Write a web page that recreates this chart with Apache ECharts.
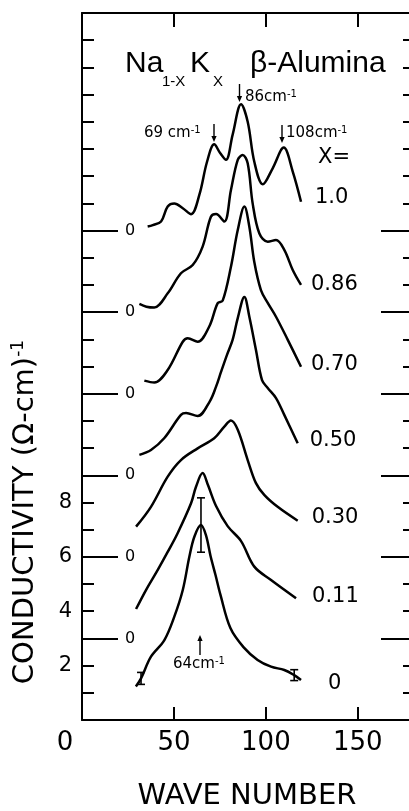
<!DOCTYPE html>
<html><head><meta charset="utf-8">
<script src="https://cdn.jsdelivr.net/npm/echarts@6/dist/echarts.min.js"></script>
<style>html,body{margin:0;padding:0;background:#fff}#c{width:409px;height:811px}</style>
</head><body><div id="c"></div>
<script>
// ---- data ----
const compositions = ['1.0', '0.86', '0.70', '0.50', '0.30', '0.11', '0'];
const offsets = [18, 15, 12, 9, 6, 3, 0];
const curve_100 = [[35.7,0.15],[38.5,0.2],[43.0,0.33],[46.6,0.88],[50.2,0.99],[54.8,0.82],[59.3,0.60],[63.8,1.31],[68.0,2.53],[71.9,3.17],[75.2,2.84],[78.3,2.60],[81.9,3.52],[86.5,4.64],[90.1,4.0],[93.7,2.53],[98.3,1.70],[103.7,2.29],[109.7,3.05],[114.6,2.17],[119.1,1.06]];
const curve_086 = [[31.2,0.30],[35.0,0.2],[39.3,0.17],[46.6,0.69],[53.8,1.43],[60.2,1.73],[65.6,2.41],[70.1,3.51],[72.9,3.61],[77.4,3.33],[81.0,4.49],[84.7,5.60],[87.4,5.78],[90.1,5.47],[92.8,4.0],[96.4,2.90],[101.0,2.59],[105.5,2.65],[110.0,2.29],[114.6,1.55],[119.1,1.0]];
const curve_070 = [[33.9,0.48],[39.3,0.41],[46.6,0.87],[54.8,1.91],[57.5,2.04],[62.9,1.91],[69.2,2.47],[73.8,3.33],[76.5,3.42],[81.0,4.67],[84.7,6.02],[88.3,6.88],[91.0,6.14],[93.7,4.84],[97.3,3.81],[101.0,3.34],[105.5,2.83],[111.9,1.98],[119.1,0.99]];
const curve_050 = [[31.2,0.75],[37.5,0.93],[44.8,1.37],[53.8,2.22],[56.6,2.29],[62.9,2.18],[69.5,2.72],[72.9,3.26],[75.6,3.80],[78.8,4.42],[81.9,4.98],[84.7,5.78],[88.3,6.56],[91.0,5.83],[94.6,4.61],[97.9,3.50],[101.0,3.21],[105.5,2.84],[110.0,2.22],[117.3,1.18]];
const curve_030 = [[29.4,1.11],[37.5,1.84],[46.6,2.95],[53.8,3.56],[62.9,3.99],[71.9,4.36],[77.4,4.79],[81.0,5.01],[84.7,4.67],[90.1,3.56],[94.6,2.71],[99.1,2.28],[106.4,1.84],[117.3,1.33]];
const curve_011 = [[29.4,1.08],[34.8,1.78],[41.2,2.52],[46.6,3.18],[52.0,3.87],[59.3,4.97],[62.0,5.58],[65.6,6.08],[68.5,5.64],[72.9,4.87],[79.2,4.13],[86.5,3.58],[93.7,2.64],[102.8,2.15],[116.4,1.48]];
const curve_000 = [[29.3,1.23],[32.1,1.53],[37.5,2.33],[44.8,2.94],[50.2,3.80],[54.8,4.78],[58.4,6.01],[61.1,6.74],[64.7,7.17],[67.4,6.80],[69.9,6.03],[72.6,5.33],[75.3,4.60],[80.7,3.38],[87.8,2.68],[95.5,2.21],[102.8,1.96],[110.0,1.84],[115.4,1.65],[119.1,1.47]];
const curves = [curve_100, curve_086, curve_070, curve_050, curve_030, curve_011, curve_000];
const errX = [64.7, 32.1, 115.4];
const errY = [7.17, 1.53, 1.65];
const errD = [1.0, 0.22, 0.2];
const xTickLabels = [0, 50, 100, 150];
const yTickLabels = [2, 4, 6, 8];

// ---- styles ----
const FONT = 'DejaVu Sans';
const labelDist = [14, 10, 10, 12, 14, 16, 27];
const labelDy = [-4, 0, -2, -3, -3, -2, 4];
const zeroMarks = offsets.filter(o => o > 0);
const black = '#000';

const chart = echarts.init(document.getElementById('c'), null, {renderer: 'canvas'});

const lineSeries = curves.map((c, i) => ({
  type: 'line',
  name: compositions[i],
  data: c.map(p => [p[0], p[1] + offsets[i]]),
  showSymbol: false,
  smooth: 0.35,
  lineStyle: {color: black, width: 2.5},
  silent: true,
  endLabel: {
    show: true,
    formatter: compositions[i],
    distance: labelDist[i],
    offset: [0, labelDy[i]],
    fontFamily: FONT, fontSize: 21, color: black
  },
  z: 2
}));

const errSeries = {
  type: 'custom',
  silent: true,
  data: errX.map((x, i) => [x, errY[i], errD[i]]),
  renderItem: function (params, api) {
    const x = api.value(0), y = api.value(1), d = api.value(2);
    const t = api.coord([x, y + d]), b = api.coord([x, y - d]);
    const w = 4;
    const st = {stroke: black, lineWidth: 1.6};
    return {type: 'group', children: [
      {type: 'line', shape: {x1: t[0], y1: t[1], x2: b[0], y2: b[1]}, style: st},
      {type: 'line', shape: {x1: t[0] - w, y1: t[1], x2: t[0] + w, y2: t[1]}, style: st},
      {type: 'line', shape: {x1: b[0] - w, y1: b[1], x2: b[0] + w, y2: b[1]}, style: st}
    ]};
  },
  z: 3
};

const axLine = {show: true, onZero: false, lineStyle: {color: black, width: 2}};
const noLine = {show: false, onZero: false};
const tickStyle = {color: black, width: 2};

function arrow(x, yFrom, yTo) {
  const dir = yTo > yFrom ? 1 : -1;
  return {type: 'group', children: [
    {type: 'line', shape: {x1: x, y1: yFrom, x2: x, y2: yTo - dir * 4}, style: {stroke: black, lineWidth: 1.4}},
    {type: 'polygon', shape: {points: [[x - 2.6, yTo - dir * 6], [x + 2.6, yTo - dir * 6], [x, yTo]]}, style: {fill: black}}
  ]};
}
function txt(x, y, text, size, family, align, extra) {
  return {type: 'text', x: x, y: y, style: Object.assign({
    text: text, fontSize: size, fontFamily: family || FONT, fill: black,
    align: align || 'left', verticalAlign: 'middle'
  }, extra || {})};
}
const supRich = {s: {fontSize: 10, fontFamily: FONT, verticalAlign: 'top', fill: black}};

const option = {
  animation: false,
  backgroundColor: '#fff',
  grid: {left: 82, right: -4, top: 13, bottom: 91, outerBoundsMode: 'none'},
  xAxis: [
    {
      type: 'value', position: 'bottom', min: 0, max: 180, interval: 50,
      axisLine: axLine,
      axisTick: {show: true, inside: true, length: 13, lineStyle: tickStyle},
      axisLabel: {
        margin: 10, fontFamily: FONT, fontSize: 26, color: black,
        formatter: v => xTickLabels.indexOf(v) < 0 ? '' : (v === 0 ? '{z|0}' : String(v)),
        rich: {z: {fontFamily: FONT, fontSize: 26, color: black, padding: [0, 34, 0, 0]}}
      },
      splitLine: {show: false}
    },
    {
      type: 'value', position: 'top', min: 0, max: 180, interval: 50,
      axisLine: axLine,
      axisTick: {show: true, inside: true, length: 14, lineStyle: tickStyle},
      axisLabel: {show: false}, splitLine: {show: false}
    }
  ],
  yAxis: [
    {
      type: 'value', position: 'left', min: 0, max: 26, interval: 1,
      axisLine: axLine,
      axisTick: {show: true, inside: true, length: 12, lineStyle: tickStyle},
      axisLabel: {
        margin: 10, fontFamily: FONT, fontSize: 21, color: black,
        formatter: v => yTickLabels.indexOf(v) < 0 ? '' : String(v)
      },
      splitLine: {show: false}
    },
    {
      type: 'value', position: 'left', min: 0, max: 26, interval: 1,
      axisLine: noLine,
      axisTick: {show: true, inside: true, length: 36, customValues: zeroMarks, lineStyle: tickStyle},
      axisLabel: {show: true, inside: true, customValues: zeroMarks, formatter: () => '0',
        margin: 43, fontFamily: FONT, fontSize: 16, color: black},
      splitLine: {show: false}
    },
    {
      type: 'value', position: 'right', min: 0, max: 26, interval: 1,
      axisLine: axLine,
      axisTick: {show: true, inside: true, length: 10, lineStyle: tickStyle},
      axisLabel: {show: false}, splitLine: {show: false}
    },
    {
      type: 'value', position: 'right', min: 0, max: 26, interval: 1,
      axisLine: noLine,
      axisTick: {show: true, inside: true, length: 32, customValues: zeroMarks, lineStyle: tickStyle},
      axisLabel: {show: false}, splitLine: {show: false}
    }
  ],
  series: lineSeries.concat([errSeries]),
  graphic: [
    // axis names
    {type: 'text', x: 25, y: 512, rotation: Math.PI / 2, style: {
      text: 'CONDUCTIVITY (Ω-cm){s|-1}', fontSize: 29, fontFamily: FONT, fill: black,
      align: 'center', verticalAlign: 'middle',
      rich: {s: {fontSize: 17, fontFamily: FONT, verticalAlign: 'top', fill: black}}
    }},
    txt(247, 796, 'WAVE NUMBER', 29, FONT, 'center'),
    // title
    txt(125, 64, 'Na', 30, 'Liberation Sans'),
    txt(162, 82, '1-X', 15, 'Liberation Sans'),
    txt(190, 64, 'K', 30, 'Liberation Sans'),
    txt(213, 82, 'X', 15, 'Liberation Sans'),
    txt(250, 64, 'β-Alumina', 30, 'Liberation Sans'),
    // peak annotations
    arrow(239.5, 84, 102),
    txt(245, 97, '86cm{s|-1}', 15, FONT, 'left', {rich: supRich}),
    txt(144, 133, '69 cm{s|-1}', 15, FONT, 'left', {rich: supRich}),
    arrow(214, 124, 142),
    arrow(282, 125, 143),
    txt(286, 133, '108cm{s|-1}', 15, FONT, 'left', {rich: supRich}),
    arrow(200, 655, 635),
    txt(173, 664, '64cm{s|-1}', 15, FONT, 'left', {rich: supRich}),
    txt(334, 158, 'X=', 21, FONT, 'center')
  ]
};
chart.setOption(option);
</script>
</body></html>
